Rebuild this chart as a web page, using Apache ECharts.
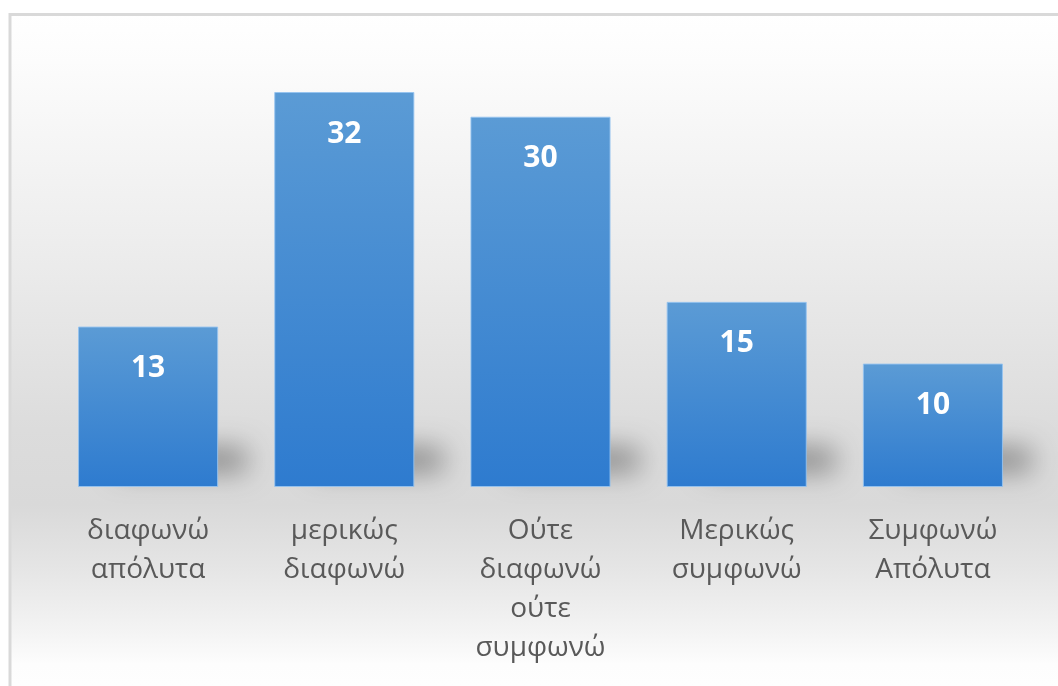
<!DOCTYPE html>
<html>
<head>
<meta charset="utf-8">
<script src="https://cdn.jsdelivr.net/npm/echarts@6/dist/echarts.min.js"></script>
<style>
  html, body { margin: 0; padding: 0; background: #ffffff; }
  #chart { width: 1058px; height: 686px; }
</style>
</head>
<body>
<div id="chart"></div>
<script>
// Survey answers (Likert scale) and response counts
const categories = ['διαφωνώ απόλυτα', 'μερικώς διαφωνώ', 'Ούτε διαφωνώ ούτε συμφωνώ', 'Μερικώς συμφωνώ', 'Συμφωνώ Απόλυτα'];
const counts = [13, 32, 30, 15, 10];
const yMax = 35;

const chart = echarts.init(document.getElementById('chart'), null, { renderer: 'canvas' });

const barFill = new echarts.graphic.LinearGradient(0, 0, 0, 1, [
  { offset: 0, color: '#5b9bd5' },
  { offset: 1, color: '#2e7bcf' }
]);

chart.setOption({
  animation: false,
  backgroundColor: '#ffffff',
  graphic: [{
    type: 'rect',
    z: -10,
    shape: { x: 10, y: 14.5, width: 1100, height: 690 },
    style: {
      stroke: '#d9d9d9',
      lineWidth: 3,
      fill: new echarts.graphic.LinearGradient(0, 0, 0, 1, [
        { offset: 0.00, color: '#ffffff' },
        { offset: 0.07, color: '#fcfcfc' },
        { offset: 0.35, color: '#ececec' },
        { offset: 0.60, color: '#dcdcdc' },
        { offset: 0.71, color: '#d9d9d9' },
        { offset: 0.80, color: '#e5e5e5' },
        { offset: 0.89, color: '#f3f3f3' },
        { offset: 0.94, color: '#fdfdfd' },
        { offset: 1.00, color: '#ffffff' }
      ])
    }
  }],
  grid: { left: 50, right: 27, top: 55, bottom: 199 },
  xAxis: {
    type: 'category',
    data: categories,
    axisLine: { show: false },
    axisTick: { show: false },
    axisLabel: {
      interval: 0,
      margin: 25,
      color: '#595959',
      fontFamily: 'Open Sans',
      fontSize: 28,
      lineHeight: 39,
      formatter: v => v.split(' ').join('\n')
    }
  },
  yAxis: {
    type: 'value',
    min: 0,
    max: yMax,
    show: false,
    splitLine: { show: false }
  },
  series: [
    {
      // soft floor shadow cast to the right of each column
      type: 'custom',
      z: 1,
      silent: true,
      data: counts.map((v, i) => [i, v]),
      renderItem(params, api) {
        const base = api.coord([api.value(0), 0]);
        const half = api.size([1, 0])[0] * 0.357;
        return {
          type: 'rect',
          shape: { x: base[0] - half + 6, y: base[1] - 38, width: half * 2 - 12, height: 22 },
          style: {
            fill: '#888888',
            shadowBlur: 28,
            shadowOffsetX: 34,
            shadowOffsetY: 0,
            shadowColor: 'rgba(0,0,0,0.42)'
          }
        };
      }
    },
    {
      type: 'bar',
      z: 2,
      data: counts,
      barWidth: '71.4%',
      itemStyle: {
        color: barFill,
        borderColor: 'rgba(150,195,240,0.9)',
        borderWidth: 1
      },
      label: {
        show: true,
        position: 'insideTop',
        distance: 27,
        color: '#ffffff',
        fontFamily: 'Open Sans',
        fontWeight: 'bold',
        fontSize: 30
      }
    }
  ]
});
</script>
</body>
</html>
